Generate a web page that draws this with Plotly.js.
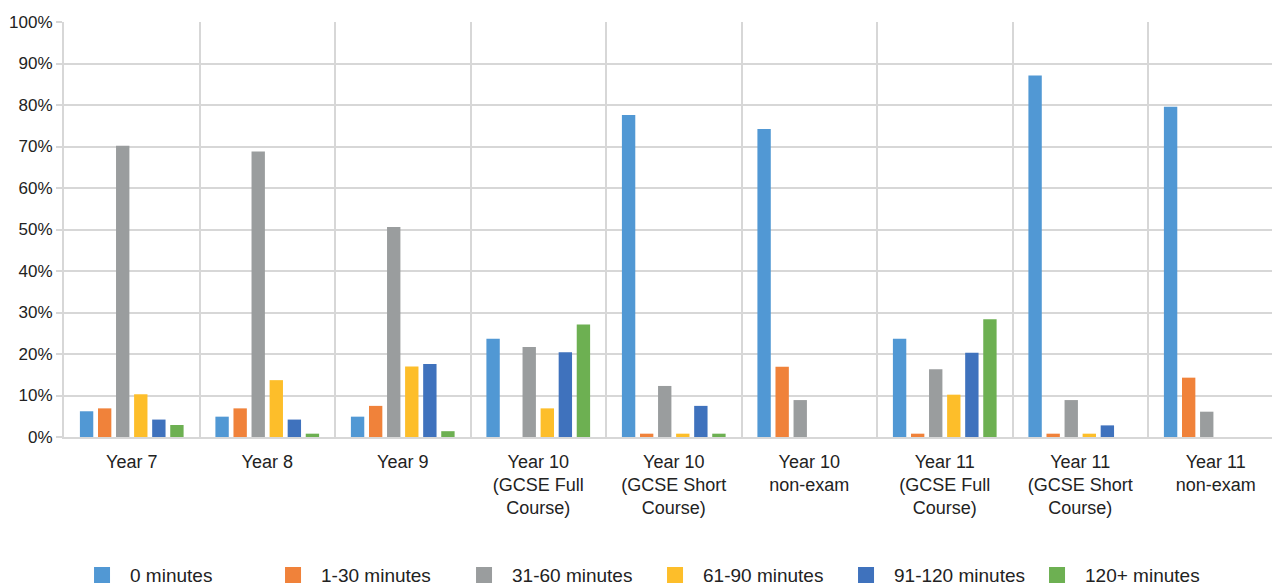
<!DOCTYPE html>
<html>
<head>
<meta charset="utf-8">
<script src="https://cdn.plot.ly/plotly-3.0.1.min.js"></script>
<style>
html,body{margin:0;padding:0;background:#fff;overflow:hidden;}
#chart{width:1272px;height:585px;}
</style>
</head>
<body>
<div id="chart"></div>
<script>
const categories = [
  "Year 7", "Year 8", "Year 9",
  "Year 10<br>(GCSE Full<br>Course)",
  "Year 10<br>(GCSE Short<br>Course)",
  "Year 10<br>non-exam",
  "Year 11<br>(GCSE Full<br>Course)",
  "Year 11<br>(GCSE Short<br>Course)",
  "Year 11<br>non-exam"
];
const seriesNames = ["0 minutes", "1-30 minutes", "31-60 minutes", "61-90 minutes", "91-120 minutes", "120+ minutes"];
const min0     = [6.2, 4.9, 4.9, 23.7, 77.6, 74.2, 23.7, 87.1, 79.6];
const min1_30  = [6.9, 6.9, 7.5, 0,    0.8,  16.9, 0.8,  0.8,  14.3];
const min31_60 = [70.2, 68.8, 50.6, 21.7, 12.3, 8.9, 16.3, 8.9, 6.1];
const min61_90 = [10.3, 13.7, 17.0, 6.9, 0.8, 0, 10.2, 0.8, 0];
const min91_120= [4.2, 4.2, 17.6, 20.4, 7.5, 0, 20.3, 2.8, 0];
const min120p  = [2.9, 0.8, 1.4, 27.1, 0.8, 0, 28.4, 0, 0];
const yTicks = [0,10,20,30,40,50,60,70,80,90,100];

const seriesValues = [min0, min1_30, min31_60, min61_90, min91_120, min120p];
const colors = ["#5198D4", "#F0823A", "#9A9D9E", "#FDBE2A", "#3F72BD", "#6DB052"];

const traces = seriesValues.map((vals, i) => ({
  type: "bar",
  x: categories,
  y: vals,
  name: seriesNames[i],
  marker: {color: colors[i], line: {width: 0}},
  showlegend: false,
  hoverinfo: "skip"
}));
// legend entries
seriesNames.forEach((n, i) => {
  traces.push({
    type: "scatter",
    mode: "markers",
    x: [categories[0]],
    y: [null],
    name: n,
    marker: {symbol: "square", size: 20, color: colors[i]},
    showlegend: true,
    hoverinfo: "skip"
  });
});

const grid = "#D7D7D7";
const layout = {
  width: 1272,
  height: 585,
  margin: {l: 64, r: 0, t: 22, b: 148, autoexpand: false},
  paper_bgcolor: "#fff",
  plot_bgcolor: "#fff",
  font: {family: "Liberation Sans, Arial, sans-serif", size: 17, color: "#222"},
  barmode: "group",
  bargap: 0.2,
  bargroupgap: 0.26,
  xaxis: {
    type: "category",
    range: [-0.5, 8.415],
    tickson: "boundaries",
    showgrid: true,
    gridcolor: grid,
    gridwidth: 2,
    showline: true,
    linecolor: grid,
    linewidth: 2,
    ticks: "",
    ticklabelstandoff: 7,
    tickfont: {size: 18, color: "#222"},
    zeroline: false,
    fixedrange: true
  },
  yaxis: {
    range: [0, 100],
    tickvals: yTicks,
    ticktext: yTicks.map(v => v + "%"),
    tickfont: {size: 17, color: "#222"},
    showgrid: true,
    gridcolor: grid,
    gridwidth: 2,
    showline: true,
    linecolor: grid,
    linewidth: 2,
    ticks: "outside",
    ticklen: 6,
    tickwidth: 2,
    tickcolor: grid,
    zeroline: false,
    fixedrange: true
  },
  showlegend: true,
  legend: {
    orientation: "h",
    x: 0.0083,
    xanchor: "left",
    y: -0.333,
    yanchor: "middle",
    yref: "paper",
    font: {size: 19, color: "#222"},
    itemwidth: 46,
    entrywidth: 130,
    itemclick: false,
    bgcolor: "rgba(0,0,0,0)"
  }
};

Plotly.newPlot("chart", traces, layout, {displayModeBar: false, staticPlot: true});
</script>
</body>
</html>
